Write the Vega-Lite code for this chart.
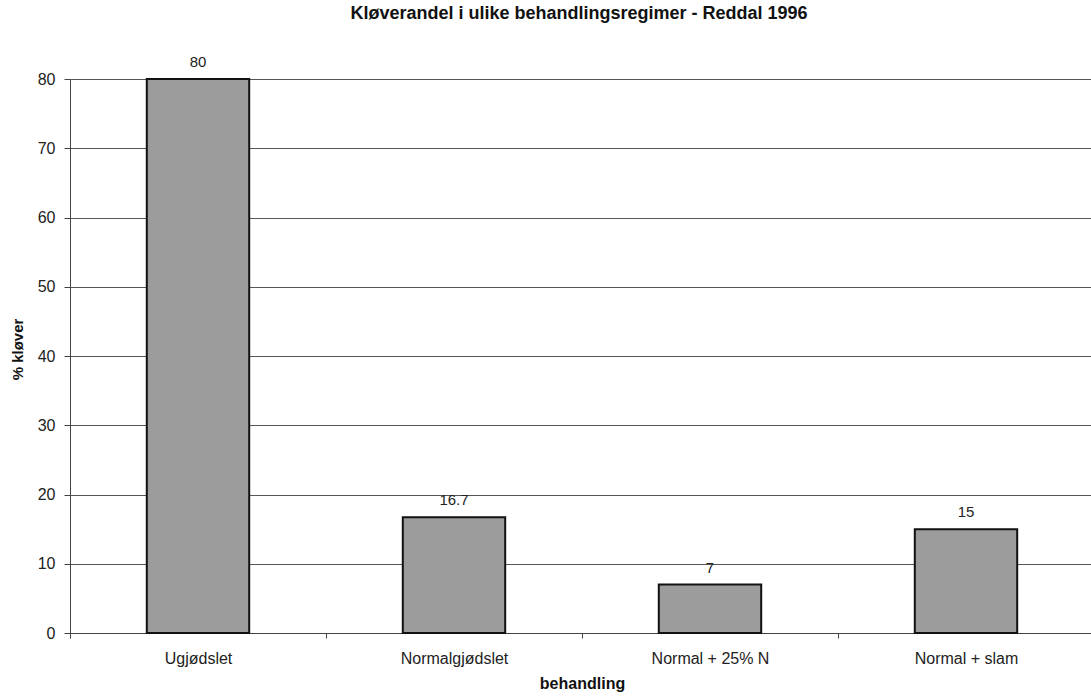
{
  "$schema": "https://vega.github.io/schema/vega-lite/v6.json",
  "autosize": "none",
  "width": 1024,
  "height": 554,
  "padding": {"left": 70, "top": 79, "right": 0, "bottom": 66},
  "background": "white",
  "config": {
    "font": "Liberation Sans",
    "view": {"stroke": null}
  },
  "title": {
    "text": "Kløverandel i ulike behandlingsregimer - Reddal 1996",
    "font": "Liberation Sans",
    "fontSize": 18,
    "fontWeight": "bold",
    "color": "#111",
    "anchor": "middle",
    "dx": -3,
    "offset": 32
  },
  "data": {
    "values": [
      {"behandling": "Ugjødslet", "klover": 80, "label": "80"},
      {"behandling": "Normalgjødslet", "klover": 16.7, "label": "16.7"},
      {"behandling": "Normal + 25% N", "klover": 7, "label": "7"},
      {"behandling": "Normal + slam", "klover": 15, "label": "15"}
    ]
  },
  "encoding": {
    "x": {
      "field": "behandling",
      "type": "nominal",
      "sort": null,
      "scale": {"paddingInner": 0.6, "paddingOuter": 0.3},
      "axis": {
        "title": "behandling",
        "titleFont": "Liberation Sans",
        "titleFontSize": 16,
        "titleFontWeight": "bold",
        "titleColor": "#111",
        "titlePadding": 9,
        "labelAngle": 0,
        "labelFont": "Liberation Sans",
        "labelFontSize": 16,
        "labelColor": "#222",
        "labelPadding": 12,
        "bandPosition": -0.75,
        "ticks": true,
        "tickSize": 5,
        "tickOffset": 0,
        "tickColor": "#444",
        "domainColor": "#444",
        "domainWidth": 1,
        "grid": false
      }
    },
    "y": {
      "field": "klover",
      "type": "quantitative",
      "scale": {"domain": [0, 80], "nice": false},
      "axis": {
        "title": "% kløver",
        "titleFont": "Liberation Sans",
        "titleFontSize": 15,
        "titleFontWeight": "bold",
        "titleColor": "#111",
        "titlePadding": 12,
        "titleY": 270,
        "values": [0, 10, 20, 30, 40, 50, 60, 70, 80],
        "labelFont": "Liberation Sans",
        "labelFontSize": 16,
        "labelColor": "#222",
        "labelPadding": 9,
        "tickSize": 6,
        "tickColor": "#444",
        "domainColor": "#444",
        "grid": true,
        "gridColor": "#555",
        "gridWidth": 1
      }
    }
  },
  "layer": [
    {
      "mark": {"type": "bar", "color": "#9c9c9c", "stroke": "#111", "strokeWidth": 2}
    },
    {
      "mark": {"type": "text", "baseline": "bottom", "dy": -9, "fontSize": 15, "font": "Liberation Sans", "color": "#222"},
      "encoding": {"text": {"field": "label"}}
    }
  ]
}
